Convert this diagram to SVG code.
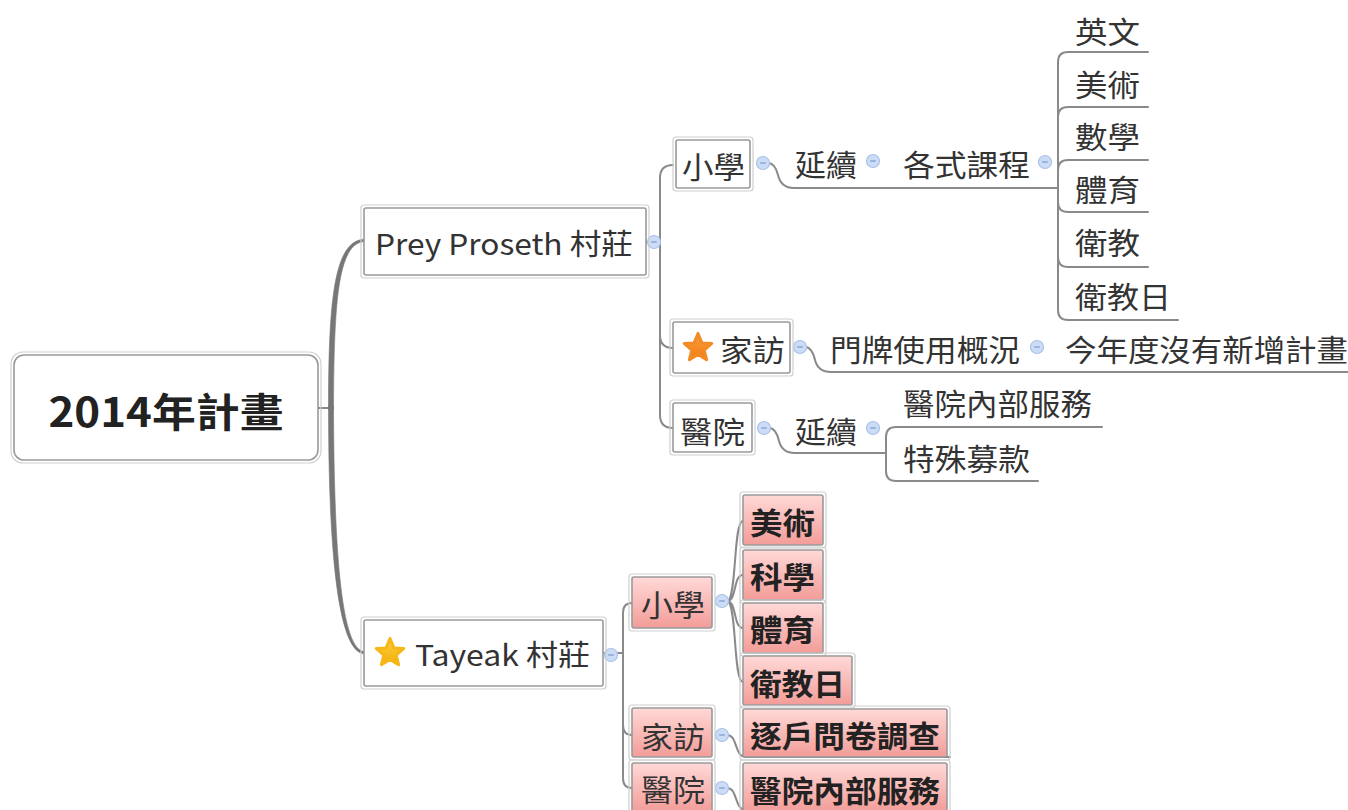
<svg xmlns="http://www.w3.org/2000/svg" width="1348" height="810" viewBox="0 0 1348 810">
<style>
.t{font-family:"Noto Sans CJK TC","Noto Sans",sans-serif;fill:#333;dominant-baseline:central}
.f30{font-size:30px}
.b{font-weight:bold;fill:#222}
.ob{fill:none;stroke:#cfcfcf;stroke-width:1.2}
.ib{fill:#fff;stroke:#9a9a9a;stroke-width:1.6}
.pk{fill:url(#pink);stroke:#9a9a9a;stroke-width:1.6}
.ln{fill:none;stroke:#8a8a8a;stroke-width:2;stroke-linecap:round}
.main{fill:#777;stroke:#777;stroke-width:0.6}
</style>
<defs>
<linearGradient id="pink" x1="0" y1="0" x2="0" y2="1">
<stop offset="0" stop-color="#ffd9d7"/>
<stop offset="1" stop-color="#f39c98"/>
</linearGradient>
<linearGradient id="orange" x1="0" y1="0" x2="0" y2="1">
<stop offset="0" stop-color="#fba040"/>
<stop offset="1" stop-color="#f07a12"/>
</linearGradient>
<linearGradient id="yellow" x1="0" y1="0" x2="0" y2="1">
<stop offset="0" stop-color="#fdd33a"/>
<stop offset="1" stop-color="#f3ac0c"/>
</linearGradient>
<path id="star" d="M0,-14.5 L3.9,-5.1 L13.8,-4.6 L6.2,2 L8.6,11.7 L0,6.5 L-8.6,11.7 L-6.2,2 L-13.8,-4.6 L-3.9,-5.1 Z" stroke-linejoin="round" stroke-width="3"/>
<g id="knob">
<circle r="6.5" fill="#cddcf6" stroke="#a9c2ea" stroke-width="1.2"/>
<line x1="-2.8" y1="0" x2="2.8" y2="0" stroke="#7d9fd0" stroke-width="1.3"/>
</g>
</defs>

<g id="connectors">
<path class="ln" d="M318,408 H331"/>
<path class="main" d="M328.5,410 C328.5,300 334,241 364,239.2 L364,241.6 C338,244 334,300 333.5,410 Z"/>
<path class="main" d="M328.5,406 C328.5,520 334,651 364,653.8 L364,651.4 C338,649 334,520 333.5,406 Z"/>
<path class="ln" d="M646,242 H660 M660,242 V178 Q660,165 673,165 M660,242 V335 Q660,348 673,348 M660,242 V415 Q660,428 673,428"/>
<path class="ln" d="M768,163 Q775,163 778,175 Q781,188 794,188 H1058"/>
<path class="ln" d="M1058,188 V62 Q1058,52 1068,52 H1148 M1058,188 V117 Q1058,107 1068,107 H1148 M1058,188 V170 Q1058,160 1068,160 H1148 M1058,188 V202 Q1058,212 1068,212 H1148 M1058,188 V257 Q1058,267 1068,267 H1148 M1058,188 V310 Q1058,320 1068,320 H1178"/>
<path class="ln" d="M805,347 Q812,347 815,360 Q818,372 831,372 H1348"/>
<path class="ln" d="M769,428 Q776,428 779,441 Q782,453 795,453 H886 M886,453 V437 Q886,427 896,427 H1102 M886,453 V471 Q886,481 896,481 H1038"/>
<path class="ln" d="M603,653 H623 M623,653 V613 Q623,603 632,603 M623,653 V725 Q623,735 632,735 M623,653 V778 Q623,788 632,788"/>
<path class="ln" d="M727,601 C737,601 733,521 743,521 M727,601 C737,601 733,575 743,575 M727,601 C737,601 733,628 743,628 M727,601 C737,601 733,682 743,682"/>
<path class="ln" d="M727,735 C738,735 734,757 746,757 H950"/>
<path class="ln" d="M727,788 C738,788 734,810 746,810"/>
<use href="#knob" x="654" y="242"/>
<use href="#knob" x="763" y="163"/>
<use href="#knob" x="873" y="161"/>
<use href="#knob" x="1045" y="162"/>
<use href="#knob" x="800" y="347"/>
<use href="#knob" x="1037" y="347"/>
<use href="#knob" x="764" y="428"/>
<use href="#knob" x="873" y="428"/>
<use href="#knob" x="611" y="655"/>
<use href="#knob" x="722" y="601"/>
<use href="#knob" x="722" y="735"/>
<use href="#knob" x="722" y="788"/>
</g>

<g id="root">
<rect class="ob" x="11" y="352" width="310" height="111" rx="12"/>
<rect class="ib" x="14" y="355" width="304" height="105" rx="10"/>
<text class="t b" x="166" y="410" font-size="40" text-anchor="middle" textLength="235" lengthAdjust="spacingAndGlyphs">2014年計畫</text>
</g>

<g id="prey">
<rect class="ob" x="361" y="205" width="288" height="73" rx="3"/>
<rect class="ib" x="364" y="208" width="282" height="67" rx="2"/>
<text class="t" x="375" y="242" font-size="29" textLength="258" lengthAdjust="spacingAndGlyphs">Prey Proseth 村莊</text>
</g>

<g id="prey-school">
<rect class="ob" x="673" y="137" width="80" height="54" rx="3"/>
<rect class="ib" x="676" y="140" width="74" height="48" rx="2"/>
<text class="t f30" x="682" y="165" textLength="63" lengthAdjust="spacingAndGlyphs">小學</text>
</g>
<g id="prey-school-cont"><text class="t f30" x="795" y="163" textLength="62" lengthAdjust="spacingAndGlyphs">延續</text></g>
<g id="courses"><text class="t f30" x="903" y="163" textLength="127" lengthAdjust="spacingAndGlyphs">各式課程</text></g>
<g id="c-english"><text class="t f30" x="1075" y="30" textLength="65" lengthAdjust="spacingAndGlyphs">英文</text></g>
<g id="c-art"><text class="t f30" x="1075" y="83" textLength="65" lengthAdjust="spacingAndGlyphs">美術</text></g>
<g id="c-math"><text class="t f30" x="1075" y="135" textLength="65" lengthAdjust="spacingAndGlyphs">數學</text></g>
<g id="c-pe"><text class="t f30" x="1075" y="188" textLength="65" lengthAdjust="spacingAndGlyphs">體育</text></g>
<g id="c-health"><text class="t f30" x="1075" y="241" textLength="65" lengthAdjust="spacingAndGlyphs">衛教</text></g>
<g id="c-healthday"><text class="t f30" x="1075" y="295" textLength="96" lengthAdjust="spacingAndGlyphs">衛教日</text></g>

<g id="prey-visit">
<rect class="ob" x="670" y="319" width="123" height="57" rx="3"/>
<rect class="ib" x="673" y="322" width="117" height="51" rx="2"/>
<use href="#star" x="698" y="348" fill="url(#orange)" stroke="#f38a24"/>
<text class="t f30" x="720" y="348" textLength="65" lengthAdjust="spacingAndGlyphs">家訪</text>
</g>
<g id="doorplate"><text class="t f30" x="830" y="348" textLength="190" lengthAdjust="spacingAndGlyphs">門牌使用概況</text></g>
<g id="no-new"><text class="t f30" x="1065" y="348" textLength="283" lengthAdjust="spacingAndGlyphs">今年度沒有新增計畫</text></g>

<g id="prey-hospital">
<rect class="ob" x="670" y="400" width="85" height="55" rx="3"/>
<rect class="ib" x="673" y="403" width="79" height="49" rx="2"/>
<text class="t f30" x="680" y="430" textLength="65" lengthAdjust="spacingAndGlyphs">醫院</text>
</g>
<g id="prey-hospital-cont"><text class="t f30" x="795" y="430" textLength="62" lengthAdjust="spacingAndGlyphs">延續</text></g>
<g id="inhouse"><text class="t f30" x="903" y="402" textLength="189" lengthAdjust="spacingAndGlyphs">醫院內部服務</text></g>
<g id="fundraise"><text class="t f30" x="903" y="457" textLength="127" lengthAdjust="spacingAndGlyphs">特殊募款</text></g>

<g id="tayeak">
<rect class="ob" x="361" y="617" width="245" height="72" rx="3"/>
<rect class="ib" x="364" y="620" width="239" height="66" rx="2"/>
<use href="#star" x="390" y="653" fill="url(#yellow)" stroke="#f6b818"/>
<text class="t" x="415" y="653" font-size="29" textLength="175" lengthAdjust="spacingAndGlyphs">Tayeak 村莊</text>
</g>

<g id="t-school">
<rect class="ob" x="629" y="574" width="86" height="57" rx="3"/>
<rect class="pk" x="632" y="577" width="80" height="51" rx="2"/>
<text class="t f30" x="641" y="603" textLength="64" lengthAdjust="spacingAndGlyphs">小學</text>
</g>
<g id="t-art">
<rect class="ob" x="740" y="492" width="86" height="56" rx="3"/>
<rect class="pk" x="743" y="495" width="80" height="50" rx="2"/>
<text class="t f30 b" x="750" y="521" textLength="65" lengthAdjust="spacingAndGlyphs">美術</text>
</g>
<g id="t-science">
<rect class="ob" x="740" y="547" width="86" height="56" rx="3"/>
<rect class="pk" x="743" y="550" width="80" height="50" rx="2"/>
<text class="t f30 b" x="750" y="575" textLength="65" lengthAdjust="spacingAndGlyphs">科學</text>
</g>
<g id="t-pe">
<rect class="ob" x="740" y="600" width="86" height="56" rx="3"/>
<rect class="pk" x="743" y="603" width="80" height="50" rx="2"/>
<text class="t f30 b" x="750" y="628" textLength="65" lengthAdjust="spacingAndGlyphs">體育</text>
</g>
<g id="t-healthday">
<rect class="ob" x="740" y="653" width="115" height="55" rx="3"/>
<rect class="pk" x="743" y="656" width="109" height="49" rx="2"/>
<text class="t f30 b" x="750" y="682" textLength="95" lengthAdjust="spacingAndGlyphs">衛教日</text>
</g>
<g id="t-visit">
<rect class="ob" x="629" y="705" width="86" height="55" rx="3"/>
<rect class="pk" x="632" y="708" width="80" height="49" rx="2"/>
<text class="t f30" x="641" y="735" textLength="64" lengthAdjust="spacingAndGlyphs">家訪</text>
</g>
<g id="t-survey">
<rect class="ob" x="740" y="706" width="210" height="54" rx="3"/>
<rect class="pk" x="743" y="709" width="204" height="48" rx="2"/>
<text class="t f30 b" x="750" y="734" textLength="190" lengthAdjust="spacingAndGlyphs">逐戶問卷調查</text>
</g>
<g id="t-hospital">
<rect class="ob" x="629" y="760" width="86" height="54" rx="3"/>
<rect class="pk" x="632" y="763" width="80" height="49" rx="2"/>
<text class="t f30" x="641" y="788" textLength="64" lengthAdjust="spacingAndGlyphs">醫院</text>
</g>
<g id="t-inhouse">
<rect class="ob" x="740" y="760" width="210" height="54" rx="3"/>
<rect class="pk" x="743" y="763" width="204" height="49" rx="2"/>
<text class="t f30 b" x="750" y="789" textLength="190" lengthAdjust="spacingAndGlyphs">醫院內部服務</text>
</g>
</svg>
